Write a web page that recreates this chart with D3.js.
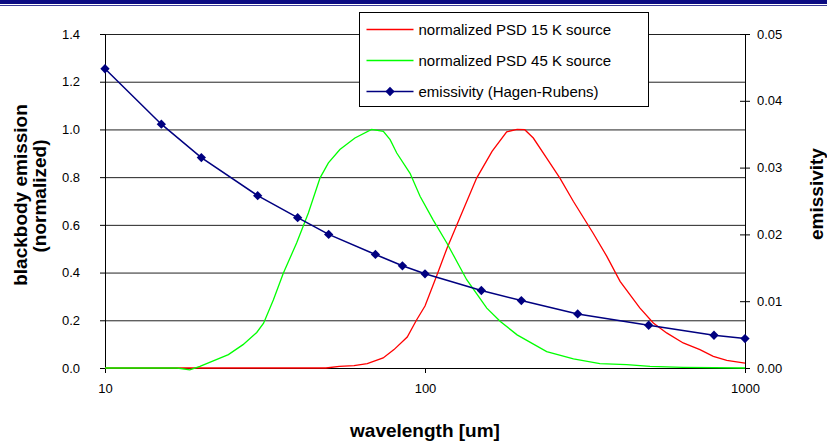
<!DOCTYPE html>
<html>
<head>
<meta charset="utf-8">
<script src="https://cdn.jsdelivr.net/npm/d3@7"></script>
<style>
  body { margin: 0; background: #fff; }
  svg { display: block; font-family: Arial, "Liberation Sans", sans-serif; }
  .tick text { font-size: 13px; fill: #000; }
  .axis path, .axis line { stroke: #000; }
  .grid line { stroke: #222; }
  .grid path { display: none; }
</style>
</head>
<body>
<div id="chart"></div>
<script>
// 15 K source, normalized PSD
const wl15 = [10, 20, 30, 40, 49, 54, 60, 66, 74, 80, 88, 94, 100, 109, 117, 129, 145, 162, 180, 194,
  205, 218, 240, 264, 291, 335, 370, 407, 469, 517, 569, 641, 723, 796, 877, 1000];
const psd15 = [0, 0, 0, 0, 0, 0.007, 0.01, 0.018, 0.042, 0.077, 0.13, 0.2, 0.26, 0.39, 0.5, 0.635, 0.796, 0.908, 0.99, 1.0,
  0.999, 0.964, 0.88, 0.796, 0.698, 0.566, 0.468, 0.363, 0.252, 0.189, 0.147, 0.105, 0.077, 0.049, 0.032, 0.02];

// 45 K source, normalized PSD
const wl45 = [10, 16.8, 18.4, 19.8, 24.3, 27, 29.8, 31.3, 33.6, 36.1, 39.7, 43.2, 47, 49.9, 54.2, 60.4, 68.1, 74.1,
  77.8, 81.6, 89.8, 96.5, 106, 117, 135, 156, 172, 194, 240, 291, 352, 427, 505, 641, 1000];
const psd45 = [0, 0, -0.008, 0.007, 0.056, 0.098, 0.149, 0.188, 0.286, 0.398, 0.524, 0.65, 0.797, 0.86, 0.916, 0.964, 1.0, 0.992,
  0.957, 0.901, 0.816, 0.72, 0.621, 0.524, 0.37, 0.251, 0.195, 0.139, 0.069, 0.038, 0.018, 0.014, 0.007, 0.003, 0];

// emissivity (Hagen-Rubens), right axis
const wlEmis = [10, 15, 20, 30, 40, 50, 70, 85, 100, 150, 200, 300, 500, 800, 1000];
const emissivity = [0.0448, 0.0365, 0.0315, 0.0258, 0.0225, 0.0200, 0.0170, 0.0153, 0.0141, 0.0116, 0.0101, 0.0081, 0.0064, 0.0049, 0.0044];

const xTicks = [10, 100, 1000];
const yLeftTicks = [0, 0.2, 0.4, 0.6, 0.8, 1.0, 1.2, 1.4];
const yRightTicks = [0, 0.01, 0.02, 0.03, 0.04, 0.05];

const legendItems = [
  {label: 'normalized PSD 15 K source', color: '#ff0000', marker: false},
  {label: 'normalized PSD 45 K source', color: '#00ff00', marker: false},
  {label: 'emissivity (Hagen-Rubens)', color: '#000080', marker: true}
];

const width = 827, height = 441;
const plotLeft = 105, plotRight = 745, plotTop = 34, plotBottom = 368;

const svg = d3.select('#chart').append('svg')
    .attr('width', width)
    .attr('height', height);

// banner at the very top
svg.append('rect').attr('x', 0).attr('y', 0).attr('width', width).attr('height', 4).attr('fill', '#0b0b82');
svg.append('line').attr('x1', 0).attr('x2', width).attr('y1', 5.5).attr('y2', 5.5)
    .attr('stroke', '#3a3a96').attr('stroke-width', 1);

const x = d3.scaleLog().domain([10, 1000]).range([plotLeft, plotRight]);
const yL = d3.scaleLinear().domain([0, 1.4]).range([plotBottom, plotTop]);
const yR = d3.scaleLinear().domain([0, 0.05]).range([plotBottom, plotTop]);

// horizontal gridlines
svg.append('g')
    .attr('class', 'grid')
    .attr('transform', `translate(${plotLeft},0)`)
    .call(d3.axisLeft(yL).tickValues(yLeftTicks.slice(1)).tickSize(-(plotRight - plotLeft)).tickFormat(''));

// left axis
svg.append('g')
    .attr('class', 'axis')
    .attr('transform', `translate(${plotLeft},0)`)
    .call(d3.axisLeft(yL).tickValues(yLeftTicks).tickSize(5).tickSizeOuter(0).tickPadding(20)
        .tickFormat(d3.format('.1f')));

// right axis, ticks crossing the line
svg.append('g')
    .attr('class', 'axis')
    .attr('transform', `translate(${plotRight},0)`)
    .call(d3.axisRight(yR).tickValues(yRightTicks).tickSize(5).tickSizeOuter(0).tickPadding(7)
        .tickFormat(d3.format('.2f')));
svg.append('g')
    .attr('class', 'axis')
    .attr('transform', `translate(${plotRight},0)`)
    .call(d3.axisLeft(yR).tickValues(yRightTicks).tickSize(5).tickSizeOuter(0).tickFormat(''))
    .select('.domain').remove();

// bottom axis
svg.append('g')
    .attr('class', 'axis')
    .attr('transform', `translate(0,${plotBottom})`)
    .call(d3.axisBottom(x).tickValues(xTicks).tickSize(5).tickSizeOuter(0).tickPadding(11)
        .tickFormat(d3.format('d')));

svg.selectAll('.axis .tick text').style('font-size', '13px');

// series
const line = d3.line().x(d => x(d[0]));

svg.append('path')
    .datum(d3.zip(wl15, psd15))
    .attr('fill', 'none')
    .attr('stroke', '#ff0000')
    .attr('stroke-width', 1.3)
    .attr('d', line.y(d => yL(d[1])));

svg.append('path')
    .datum(d3.zip(wl45, psd45))
    .attr('fill', 'none')
    .attr('stroke', '#00ff00')
    .attr('stroke-width', 1.3)
    .attr('d', line.y(d => yL(d[1])));

svg.append('path')
    .datum(d3.zip(wlEmis, emissivity))
    .attr('fill', 'none')
    .attr('stroke', '#000080')
    .attr('stroke-width', 1.5)
    .attr('d', line.y(d => yR(d[1])));

const diamond = d3.symbol().type(d3.symbolDiamond2).size(55);

svg.selectAll('.marker')
    .data(d3.zip(wlEmis, emissivity))
    .enter()
    .append('path')
    .attr('class', 'marker')
    .attr('d', diamond)
    .attr('fill', '#000080')
    .attr('transform', d => `translate(${x(d[0])},${yR(d[1])})`);

// axis titles
svg.append('text')
    .attr('x', (plotLeft + plotRight) / 2)
    .attr('y', 437)
    .attr('text-anchor', 'middle')
    .style('font-size', '19px')
    .style('font-weight', 'bold')
    .text('wavelength [um]');

svg.append('text')
    .attr('transform', 'translate(27,195) rotate(-90)')
    .attr('text-anchor', 'middle')
    .style('font-size', '19px')
    .style('font-weight', 'bold')
    .text('blackbody emission');

svg.append('text')
    .attr('transform', 'translate(46,196) rotate(-90)')
    .attr('text-anchor', 'middle')
    .style('font-size', '19px')
    .style('font-weight', 'bold')
    .text('(normalized)');

svg.append('text')
    .attr('transform', 'translate(823,194) rotate(-90)')
    .attr('text-anchor', 'middle')
    .style('font-size', '19px')
    .style('font-weight', 'bold')
    .text('emissivity');

// legend
const legend = svg.append('g').attr('transform', 'translate(359.5,12.5)');

legend.append('rect')
    .attr('width', 289)
    .attr('height', 94)
    .attr('fill', '#fff')
    .attr('stroke', '#000')
    .attr('stroke-width', 1);

const rows = legend.selectAll('.row')
    .data(legendItems)
    .enter()
    .append('g')
    .attr('class', 'row')
    .attr('transform', (d, i) => `translate(0,${17 + i * 31})`);

rows.append('line')
    .attr('x1', 7).attr('x2', 54)
    .attr('stroke', d => d.color)
    .attr('stroke-width', d => d.marker ? 1.5 : 1.3);

rows.filter(d => d.marker)
    .append('path')
    .attr('d', diamond)
    .attr('fill', d => d.color)
    .attr('transform', 'translate(30.5,0)');

rows.append('text')
    .attr('x', 59)
    .attr('y', 5)
    .style('font-size', '15px')
    .text(d => d.label);
</script>
</body>
</html>
